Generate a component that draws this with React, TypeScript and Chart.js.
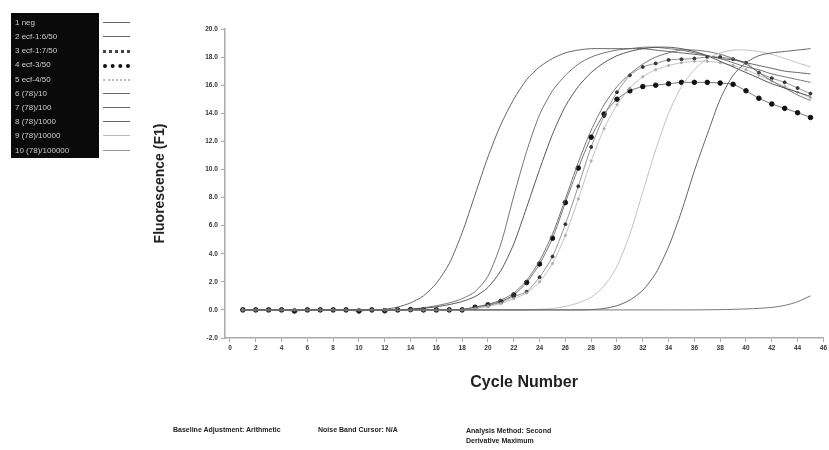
import React, { useEffect, useRef } from "react";
import { Chart, registerables } from "chart.js";

Chart.register(...registerables);

const cycles = [1,2,3,4,5,6,7,8,9,10,11,12,13,14,15,16,17,18,19,20,21,22,23,24,25,26,27,28,29,30,31,32,33,34,35,36,37,38,39,40,41,42,43,44,45];

const xTickMin = -0.4;
const xTickMax = 46;
const yTickMin = -2;
const yTickMax = 20;

const neg = [0,0,0,0,0,0,0,0,0,0,0,0,0,0,0,0,0,0,0,0,0,0,0,0,0,0,0,0,0,0,0,0,0,0,0,0,0.01,0.02,0.04,0.07,0.11,0.18,0.32,0.58,1.0];
const ecf16 = [0,0,0,0,0,0,0,0,0,0,0,0,0,0,0,0,0,0.05,0.2,0.4,0.7,1.2,2.1,3.5,5.4,7.9,10.5,12.8,14.6,15.9,16.8,17.5,18.0,18.3,18.5,18.5,18.4,18.2,17.9,17.5,16.9,16.3,15.8,15.3,14.9];
const ecf17 = [0,0,0,0,0,0,0,0,0,0,0,0,0,0,0,0,0,0,0.1,0.3,0.55,0.95,1.3,2.33,3.8,6.1,8.8,11.6,13.8,15.5,16.7,17.3,17.55,17.8,17.85,17.9,18.0,18.0,17.85,17.6,16.9,16.5,16.2,15.8,15.4];
const ecf3 = [0,0,0,0,-0.08,0,0,0,0,-0.08,0,-0.06,0,0.02,0,0,0,0,0.19,0.36,0.6,1.07,1.95,3.27,5.1,7.64,10.1,12.3,13.95,15.0,15.6,15.9,16.0,16.1,16.2,16.2,16.2,16.15,16.06,15.6,15.07,14.66,14.35,14.04,13.7];
const ecf4 = [0,0,0,0,0,0,0,0,0,0,0,0,0,0,0,0,0,0,0.1,0.25,0.45,0.8,1.2,2.0,3.3,5.3,7.9,10.6,12.9,14.6,15.8,16.6,17.1,17.4,17.6,17.7,17.7,17.6,17.4,17.1,16.7,16.3,15.9,15.5,15.1];
const dil10 = [0,0,0,0,0,0,0,0,0,0,0,0.05,0.2,0.5,1.0,1.9,3.3,5.5,8.2,10.9,13.2,15.0,16.4,17.3,17.9,18.3,18.5,18.6,18.6,18.6,18.6,18.6,18.5,18.4,18.3,18.2,18.1,17.9,17.8,17.6,17.4,17.2,17.0,16.9,16.8];
const dil100 = [0,0,0,0,0,0,0,0,0,0,0,0,0,0.05,0.15,0.3,0.5,0.8,1.3,2.4,4.7,8.1,11.3,13.9,15.6,16.7,17.5,18.0,18.3,18.5,18.6,18.7,18.7,18.6,18.5,18.3,18.1,17.9,17.6,17.3,17.1,16.8,16.6,16.4,16.2];
const dil1000 = [0,0,0,0,0,0,0,0,0,0,0,0,0,0.05,0.12,0.22,0.38,0.6,0.95,1.6,2.8,4.7,7.3,10.0,12.5,14.5,15.9,16.9,17.6,18.1,18.4,18.6,18.7,18.7,18.6,18.4,18.1,17.7,17.3,16.9,16.5,16.1,15.8,15.5,15.2];
const dil10000 = [0,0,0,0,0,0,0,0,0,0,0,0,0,0,0,0,0,0,0,0,0,0,0,0.05,0.1,0.25,0.5,0.9,1.7,3.1,5.4,8.4,11.4,14.0,15.9,17.1,17.9,18.3,18.5,18.5,18.4,18.2,17.9,17.6,17.3];
const dil100000 = [0,0,0,0,0,0,0,0,0,0,0,0,0,0,0,0,0,0,0,0,0,0,0,0,0,0,0,0.02,0.1,0.3,0.7,1.4,2.6,4.5,7.0,9.9,12.5,15.0,16.7,17.6,18.1,18.3,18.4,18.5,18.6];

const legendLabels = ["1 neg", "2 ecf-1:6/50", "3 ecf-1:7/50", "4 ecf-3/50", "5 ecf-4/50", "6 (78)/10", "7 (78)/100", "8 (78)/1000", "9 (78)/10000", "10 (78)/100000"];

const FONT = "'Liberation Sans', Arial, sans-serif";

function pts(vals: number[]) {
  return vals.map((v, i) => ({ x: cycles[i], y: v }));
}

export default function App() {
  const ref = useRef<HTMLCanvasElement | null>(null);

  useEffect(() => {
    document.body.style.margin = "0";
    const ctx = ref.current!.getContext("2d")!;
    const line = (label: string, vals: number[], color: string, extra: any = {}) => ({
      label,
      data: pts(vals),
      borderColor: color,
      backgroundColor: color,
      borderWidth: 0.9,
      pointRadius: 0,
      tension: 0.25,
      ...extra,
    });
    const chart = new Chart(ctx, {
      type: "line",
      data: {
        datasets: [
          line(legendLabels[0], neg, "#666"),
          line(legendLabels[9], dil100000, "#555"),
          line(legendLabels[8], dil10000, "#bbb"),
          line(legendLabels[7], dil1000, "#444"),
          line(legendLabels[6], dil100, "#666"),
          line(legendLabels[5], dil10, "#555"),
          line(legendLabels[1], ecf16, "#666"),
          line(legendLabels[4], ecf4, "#bbb", { pointRadius: 1.1, pointBackgroundColor: "#aaa", pointBorderColor: "#aaa" }),
          line(legendLabels[2], ecf17, "#888", { pointRadius: 1.5, pointBackgroundColor: "#333", pointBorderColor: "#333" }),
          line(legendLabels[3], ecf3, "#666", { pointRadius: 2.3, pointBackgroundColor: "#111", pointBorderColor: "#111" }),
        ],
      },
      options: {
        animation: false,
        responsive: false,
        maintainAspectRatio: false,
        layout: { padding: { left: 152, right: 5, top: 29, bottom: 58 } },
        plugins: { legend: { display: false }, tooltip: { enabled: false } },
        scales: {
          x: {
            type: "linear",
            min: xTickMin,
            max: xTickMax,
            ticks: {
              stepSize: 2,
              includeBounds: false,
              autoSkip: false,
              maxRotation: 0,
              color: "#333",
              padding: 2,
              font: { size: 6.5, family: FONT, weight: "bold" },
            },
            grid: { drawOnChartArea: false, tickLength: 4, color: "#aaa" },
            border: { color: "#aaa", width: 1.5 },
            title: {
              display: true,
              text: "Cycle Number",
              color: "#222",
              padding: 0,
              font: { size: 16, weight: "bold", family: FONT },
            },
            afterFit: (s: any) => { s.height = 54; },
          },
          y: {
            min: yTickMin,
            max: yTickMax,
            ticks: {
              stepSize: 2,
              color: "#333",
              padding: 3,
              font: { size: 6.5, family: FONT, weight: "bold" },
              callback: (v: any) => Number(v).toFixed(1),
            },
            grid: { drawOnChartArea: false, tickLength: 4, color: "#aaa" },
            border: { color: "#aaa", width: 1.5 },
            title: {
              display: true,
              text: "Fluorescence (F1)",
              color: "#222",
              padding: 0,
              font: { size: 14, weight: "bold", family: FONT },
            },
            afterFit: (s: any) => { s.width = 72.8; },
          },
        },
      },
    } as any);
    return () => chart.destroy();
  }, []);

  const sampleStyle = (i: number): React.ReactNode => {
    if (i === 2) {
      return <div style={{ width: 27, height: 0, borderTop: "3px dotted #444" }} />;
    }
    if (i === 3) {
      return <div style={{ width: 27, height: 0, borderTop: "4px dotted #111" }} />;
    }
    if (i === 4) {
      return <div style={{ width: 27, height: 0, borderTop: "2px dotted #bbb" }} />;
    }
    const c = i === 8 ? "#bbb" : i === 9 ? "#999" : "#666";
    return <div style={{ width: 27, height: 0, borderTop: `1px solid ${c}` }} />;
  };

  return (
    <div style={{ position: "relative", width: 829, height: 450, background: "#fff", overflow: "hidden" }}>
      <canvas ref={ref} width={829} height={450} style={{ position: "absolute", left: 0, top: 0, width: 829, height: 450 }} />
      <div style={{ position: "absolute", left: 11, top: 13, width: 88, height: 145, background: "#0a0a0a" }} />
      {legendLabels.map((t, i) => (
        <React.Fragment key={t}>
          <div
            style={{
              position: "absolute",
              left: 15,
              top: 22.7 + i * 14.2 - 5,
              height: 10,
              lineHeight: "10px",
              fontFamily: FONT,
              fontSize: 8,
              color: "#ccc",
              whiteSpace: "nowrap",
            }}
          >
            {t}
          </div>
          <div style={{ position: "absolute", left: 103, top: 22.7 + i * 14.2 - 1, display: "flex", alignItems: "center" }}>
            {sampleStyle(i)}
          </div>
        </React.Fragment>
      ))}
      <div style={{ position: "absolute", left: 173, top: 426, fontFamily: FONT, fontSize: 7, fontWeight: "bold", color: "#222", whiteSpace: "nowrap" }}>
        Baseline Adjustment: Arithmetic
      </div>
      <div style={{ position: "absolute", left: 318, top: 426, fontFamily: FONT, fontSize: 7, fontWeight: "bold", color: "#222", whiteSpace: "nowrap" }}>
        Noise Band Cursor: N/A
      </div>
      <div style={{ position: "absolute", left: 466, top: 426, fontFamily: FONT, fontSize: 7, fontWeight: "bold", color: "#222", whiteSpace: "nowrap", lineHeight: "10px" }}>
        Analysis Method: Second
        <br />
        Derivative Maximum
      </div>
    </div>
  );
}
